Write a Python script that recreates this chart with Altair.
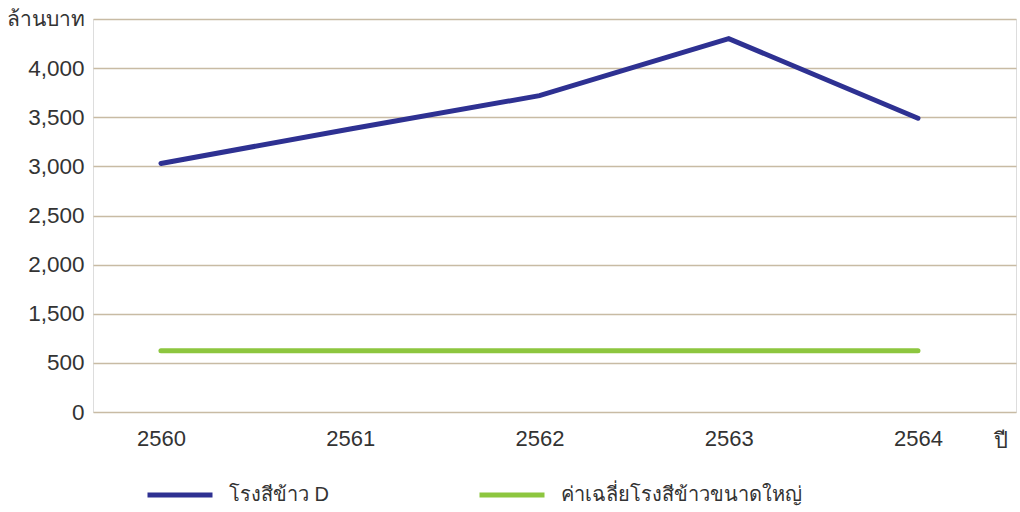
import altair as alt
import pandas as pd

# Rice mill revenue (million baht) by Thai fiscal year
years = [2560, 2561, 2562, 2563, 2564]
mill_d = [3030, 3380, 3720, 4300, 3490]
large_avg = [745, 745, 745, 745, 745]

series_names = ["โรงสีข้าว D", "ค่าเฉลี่ยโรงสีข้าวขนาดใหญ่"]
series_colors = ["#2e3192", "#8dc63f"]

# broken-axis positions: 0..500 full scale, 500..1500 compressed, then full scale again
grid_positions = [0, 500, 1000, 1500, 2000, 2500, 3000, 3500, 4000]

rows = []
for y, a, b in zip(years, mill_d, large_avg):
    rows.append({"year": y, "series": series_names[0], "value": a})
    rows.append({"year": y, "series": series_names[1], "value": b})
df = pd.DataFrame(rows)

FONT = "Liberation Sans, Noto Sans, DejaVu Sans, sans-serif"
TEXT = "#333333"

label_expr = (
    "datum.value == 0 ? '0' : datum.value == 500 ? '500' : "
    "datum.value >= 4000 ? '' : format(datum.value + 500, ',')"
)

chart = (
    alt.Chart(df)
    .transform_calculate(
        pos="datum.value <= 500 ? datum.value : "
            "(datum.value <= 1500 ? 500 + (datum.value - 500) / 2 : datum.value - 500)"
    )
    .mark_line(strokeWidth=5, strokeCap="round", strokeJoin="miter")
    .encode(
        x=alt.X(
            "year:Q",
            scale=alt.Scale(domain=[2559.641, 2564.518], nice=False, zero=False),
            axis=alt.Axis(
                values=years,
                format="d",
                grid=False,
                domain=False,
                ticks=False,
                labelPadding=16,
                labelFontSize=22,
                labelColor=TEXT,
                labelFont=FONT,
                title="ปี",
                titleFont=FONT,
                titleFontSize=22,
                titleFontWeight="normal",
                titleColor=TEXT,
                titleX=907,
                titleY=28,
                titleAlign="center",
                titleBaseline="middle",
            ),
        ),
        y=alt.Y(
            "pos:Q",
            scale=alt.Scale(domain=[0, 4000], nice=False),
            axis=alt.Axis(
                values=grid_positions,
                labelExpr=label_expr,
                grid=True,
                gridColor="#c8bba4",
                gridWidth=1.5,
                domain=False,
                ticks=False,
                labelPadding=9,
                labelFontSize=22.5,
                labelColor=TEXT,
                labelFont=FONT,
                title="ล้านบาท",
                titleFont=FONT,
                titleFontSize=21,
                titleFontWeight="normal",
                titleColor=TEXT,
                titleAngle=0,
                titleAlign="right",
                titleBaseline="middle",
                titleX=-9,
                titleY=0,
            ),
        ),
        color=alt.Color(
            "series:N",
            scale=alt.Scale(domain=series_names, range=series_colors),
            sort=series_names,
            legend=alt.Legend(
                title=None,
                orient="none",
                legendX=52,
                legendY=441,
                direction="horizontal",
                symbolType="stroke",
                symbolSize=4225,
                symbolStrokeWidth=5,
                symbolOpacity=1,
                labelFontSize=20,
                labelFont=FONT,
                labelColor=TEXT,
                labelOffset=14,
                labelLimit=400,
                gridAlign="each",
                columnPadding=140,
            ),
        ),
    )
    .properties(
        width=923,
        height=393,
        autosize=alt.AutoSizeParams(type="none"),
        padding={"left": 93, "top": 19, "right": 4, "bottom": 100},
    )
    .configure_view(stroke=None)
    .configure(background="white")
)

chart.save("out.html", embed_options={"renderer": "svg", "actions": False})
